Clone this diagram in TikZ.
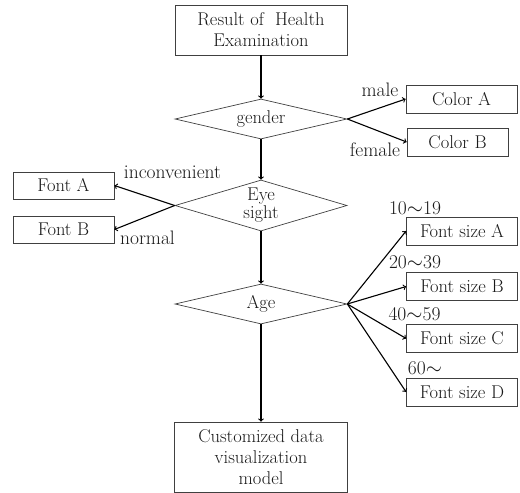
\documentclass[tikz,border=0pt]{standalone}
\usepackage{amsmath}
\usepackage{tikz}
\usetikzlibrary{positioning}
\usetikzlibrary{shapes.geometric}
\usepackage{xcolor}

\begin{document}
\begin{tikzpicture}[x=1pt,y=-1pt,
every node/.style={font=\fontsize{18.5}{21}\selectfont, text=black!90},
block/.style={draw=black!75, line width=0.7pt, inner sep=0pt, align=center},
decision/.style={draw=black!75, diamond, aspect=4.3, line width=0.7pt, inner sep=0pt, align=center, minimum width=172pt},
lbl/.style={inner sep=0pt, font=\fontsize{19.5}{22}\selectfont},
flow/.style={->, line width=1.1pt}]

\useasboundingbox (0,0) rectangle (520,493);

\node[block, minimum width=172pt, minimum height=50pt] (result) at (261,30) {Result of\ \ Health\\Examination};
\node[decision, minimum height=40pt] (gender) at (261,119) {gender};
\node[decision, aspect=3.37, minimum height=51pt] (eye) at (261,205.5) {Eye\\[-3pt]sight};
\node[decision, minimum height=40pt] (age) at (261,304) {Age};
\node[block, minimum width=173pt, minimum height=70pt] (model) at (261,457) {Customized data\\visualization\\model};

\node[block, minimum width=111pt, minimum height=28pt] (colorA) at (461.5,99) {Color A};
\node[block, minimum width=101pt, minimum height=28pt] (colorB) at (457.5,142) {Color B};

\node[block, minimum width=101pt, minimum height=27pt] (fontA) at (63.5,185.5) {Font A};
\node[block, minimum width=101pt, minimum height=27pt] (fontB) at (63.5,229.5) {Font B};

\foreach \n/\y in {A/231,B/286.5,C/338.5,D/392}
\node[block, minimum width=111pt, minimum height=28pt] (size\n) at (462,\y) {Font size \n};

\draw[flow] (result) -- (gender);
\draw[flow] (gender) -- (eye);
\draw[flow] (eye) -- (age);
\draw[flow] (age) -- (model);

\draw[flow] (gender.east) -- (colorA.west);
\draw[flow] (gender.east) -- (colorB.west);
\draw[flow] (eye.west) -- (fontA.east);
\draw[flow] (eye.west) -- (fontB.east);

\foreach \n in {A,B,C,D}
\draw[flow] (age.east) -- (size\n.west);

\node[lbl] (male) at (380,90) {male};
\node[lbl] (female) at (375,149.5) {female};
\node[lbl] (inconv) at (172.5,172) {inconvenient};
\node[lbl] (normal) at (147.5,237.5) {normal};

\foreach \n/\r/\x/\y in {A/10$\sim$19/415/208,B/20$\sim$39/415/262.5,C/40$\sim$59/414.5/314,D/60$\sim$/425/368}
\node[lbl] (range\n) at (\x,\y) {\r};

\end{tikzpicture}
\end{document}
